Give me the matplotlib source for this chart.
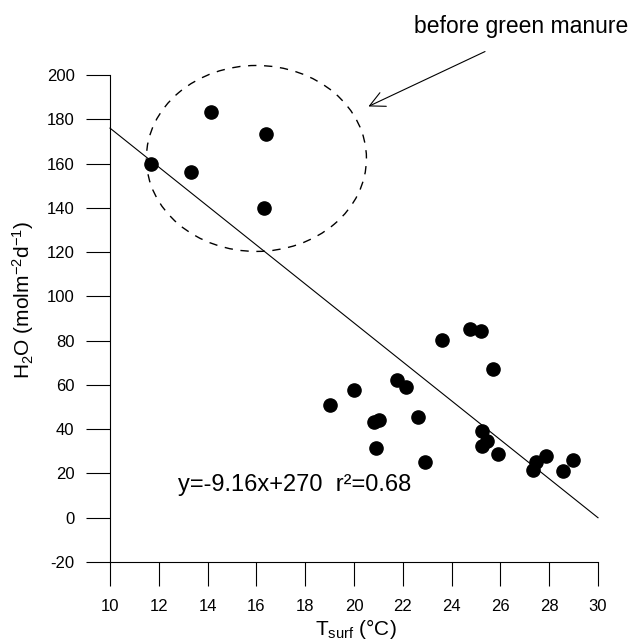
import matplotlib
matplotlib.use("Agg")
import matplotlib.pyplot as plt
from matplotlib.patches import Ellipse

plt.rcParams['font.family'] = ['Liberation Sans', 'DejaVu Sans']
plt.rcParams['mathtext.fontset'] = 'custom'
plt.rcParams['mathtext.rm'] = 'Liberation Sans'
plt.rcParams['mathtext.it'] = 'Liberation Sans:italic'
plt.rcParams['mathtext.bf'] = 'Liberation Sans:bold'
plt.rcParams['axes.unicode_minus'] = False

# --- data ---
t_surf = [11.67, 13.33, 14.13, 16.41, 16.31,
          19.03, 20.0, 20.83, 21.04, 20.89, 21.77, 22.13, 22.64, 22.92,
          23.62, 24.75, 25.19, 25.71, 25.26, 25.46, 25.25, 25.89,
          27.86, 27.45, 27.35, 28.55, 28.96]
h2o = [159.9, 156.0, 183.3, 173.3, 140.0,
       50.7, 57.7, 43.2, 44.0, 31.3, 62.3, 58.9, 45.5, 25.2,
       80.1, 85.2, 84.5, 67.4, 39.4, 34.5, 32.2, 28.8,
       27.9, 25.0, 21.5, 21.2, 26.2]
fit_x = [10, 30]
fit_y = [176, 0]
x_ticks = list(range(10, 31, 2))
y_ticks = list(range(-20, 201, 20))
equation = "y=-9.16x+270  r\u00b2=0.68"
note = "before green manure"

fig = plt.figure(figsize=(6.35, 6.41), dpi=100)
ax = fig.add_axes([110/635, 1-562/641, 488/635, 487/641])

ax.plot(t_surf, h2o, 'o', color='black', markersize=9.5, clip_on=False, zorder=3)
ax.plot(fit_x, fit_y, color='black', lw=0.8, clip_on=False)

ell = Ellipse((16.0, 162.3), 9.02, 84, fill=False, edgecolor='black', lw=1.0,
              linestyle=(0, (6, 5.5)), clip_on=False)
ax.add_patch(ell)

ax.annotate('', xy=(20.59, 185.8), xytext=(25.37, 210.6),
            arrowprops=dict(arrowstyle='->,head_length=0.6,head_width=0.3',
                            lw=0.8, color='black', mutation_scale=18,
                            shrinkA=0, shrinkB=0),
            annotation_clip=False)
ax.text(26.85, 221.8, note, ha='center', va='center', fontsize=16.5, clip_on=False)
ax.text(12.79, 14.9, equation, ha='left', va='center', fontsize=17)

ax.set_xlim(10, 30)
ax.set_ylim(-20, 200)
ax.set_xticks(x_ticks)
ax.set_yticks(y_ticks)
for s in ['top', 'right']:
    ax.spines[s].set_visible(False)
for s in ['left', 'bottom']:
    ax.spines[s].set_linewidth(0.8)
ax.tick_params(direction='out', length=17.5, width=0.8, labelsize=12)
ax.tick_params(axis='y', pad=8)
ax.tick_params(axis='x', pad=9)

ax.set_ylabel(r'H$_{\mathrm{2}}$O (molm$^{\mathrm{-2}}$d$^{\mathrm{-1}}$)', fontsize=15, va='center')
ax.yaxis.set_label_coords(-0.178, 0.538)
ax.set_xlabel(r'T$_{\mathrm{surf}}$ (°C)', fontsize=15, va='top')
ax.xaxis.set_label_coords(0.504, -0.113)

fig.savefig('out.png', dpi=100)
